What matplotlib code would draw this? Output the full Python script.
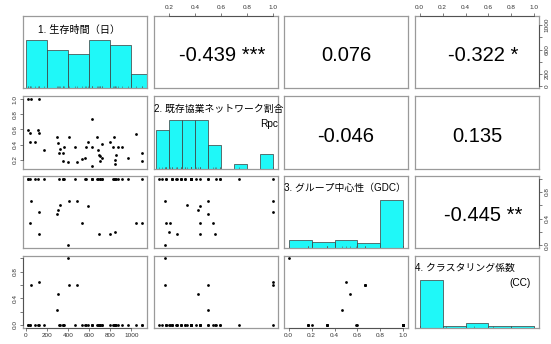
import matplotlib
matplotlib.use("Agg")
import matplotlib.pyplot as plt
import matplotlib.transforms as mtransforms
import numpy as np

plt.rcParams['font.family'] = ['Liberation Sans', 'Noto Sans CJK JP', 'DejaVu Sans']

# data (47 cases)
survival_days = [16, 48, 121, 626, 19, 38, 111, 127, 41, 83, 174, 298, 308, 365, 327, 317,
                 349, 413, 356, 397, 470, 489, 530, 565, 568, 590, 626, 626, 679, 686, 692,
                 705, 717, 717, 705, 802, 832, 825, 870, 911, 854, 845, 845, 971, 1041, 1105, 1098]
rpc = [1.0, 1.0, 1.0, 0.74, 0.59, 0.56, 0.59, 0.55, 0.435, 0.435, 0.325, 0.495, 0.42, 0.367,
       0.337, 0.29, 0.29, 0.495, 0.18, 0.17, 0.367, 0.17, 0.21, 0.22, 0.367, 0.44, 0.367, 0.12,
       0.495, 0.325, 0.26, 0.255, 0.41, 0.22, 0.18, 0.44, 0.495, 0.367, 0.367, 0.367, 0.26,
       0.2, 0.145, 0.22, 0.54, 0.29, 0.18]
gdc = [1, 0.667, 0.5, 1, 1, 1, 1, 0.167, 0.333, 1, 1, 0.467, 0.533, 1, 0.6, 1, 1, 0.667, 1, 0,
       1, 0.667, 0.333, 1, 1, 0.583, 1, 1, 1, 1, 0.167, 1, 1, 1, 1, 0.167, 1, 1, 1, 1, 1, 0.2,
       1, 1, 0.333, 1, 0.333]
cc = [0, 0.6, 0.64, 0, 0, 0, 0, 0, 0, 0, 0, 0.23, 0.47, 0, 0, 0, 0, 0.6, 0, 1.0, 0, 0.6, 0, 0,
      0, 0, 0, 0, 0, 0, 0, 0, 0, 0, 0, 0, 0, 0, 0, 0, 0, 0, 0, 0, 0, 0, 0]

var_names = ["1. 生存時間（日）", "2. 既存協業ネットワーク割合", "3. グループ中心性（GDC）", "4. クラスタリング係数"]
var_subnames = ["", "Rpc", "", "(CC)"]
hist_breaks = [np.arange(0, 1201, 200), np.arange(0.1, 1.01, 0.1),
               np.arange(0, 1.01, 0.2), np.arange(0, 1.01, 0.2)]
axis_ticks = [[0, 200, 400, 600, 800, 1000], [0.2, 0.4, 0.6, 0.8, 1.0],
              [0, 0.2, 0.4, 0.6, 0.8, 1.0], [0, 0.2, 0.4, 0.6, 0.8, 1.0]]
axis_labels = [["0", "200", "", "600", "", "1000"], ["0.2", "0.4", "0.6", "0.8", "1.0"],
               ["0.0", "", "0.4", "", "0.8", ""], ["0.0", "", "0.4", "", "0.8", ""]]
full_labels = [["0", "200", "400", "600", "800", "1000"], ["0.2", "0.4", "0.6", "0.8", "1.0"],
               ["0.0", "0.2", "0.4", "0.6", "0.8", "1.0"], ["0.0", "0.2", "0.4", "0.6", "0.8", "1.0"]]
cor_values = {(0, 1): "-0.439", (0, 2): "0.076", (0, 3): "-0.322",
              (1, 2): "-0.046", (1, 3): "0.135", (2, 3): "-0.445"}
cor_stars = {(0, 1): "***", (0, 3): "*", (2, 3): "**"}

data = [np.array(survival_days, float), np.array(rpc, float), np.array(gdc, float), np.array(cc, float)]
nvar = len(data)

W, H = 551, 344
fig = plt.figure(figsize=(W / 100, H / 100), dpi=100)
col_x = [23, 154, 284, 415]
row_y = [16, 96.5, 176, 255.5]
pw, ph = 124, 72

frame_col = '#9a9a9a'


def lims(v):
    r = v.max() - v.min()
    return v.min() - 0.04 * r, v.max() + 0.04 * r


def axis_line(ax, ticks, side):
    # R draws a dark line between the first and last tick
    if side in ('top', 'bottom'):
        tr = mtransforms.blended_transform_factory(ax.transData, ax.transAxes)
        yy = 1 if side == 'top' else 0
        ax.plot([ticks[0], ticks[-1]], [yy, yy], transform=tr, color='#444444', lw=0.6,
                clip_on=False, zorder=5)
    else:
        tr = mtransforms.blended_transform_factory(ax.transAxes, ax.transData)
        xx = 0 if side == 'left' else 1
        ax.plot([xx, xx], [ticks[0], ticks[-1]], transform=tr, color='#444444', lw=0.6,
                clip_on=False, zorder=5)


for i in range(nvar):
    for j in range(nvar):
        ax = fig.add_axes([col_x[j] / W, 1 - (row_y[i] + ph) / H, pw / W, ph / H])
        for s in ax.spines.values():
            s.set_color(frame_col)
            s.set_linewidth(0.9)
        ax.set_xticks([])
        ax.set_yticks([])
        ax.set_xlim(*lims(data[j]))

        if i == j:
            v = data[i]
            br = hist_breaks[i]
            # right-closed bins like R's hist()
            counts = np.histogram(-v, bins=-br[::-1])[0][::-1]
            ax.bar(br[:-1], counts, width=np.diff(br), align='edge', color='#1ff8f8',
                   edgecolor='#3a3a3a', linewidth=0.5)
            top = counts.max() * 1.5
            ax.set_ylim(0, top)
            ax.vlines(v, 0, top * 0.025, color='#555555', linewidth=0.4)
            if i == 0:
                ax.text(0.45, 0.8, var_names[i], transform=ax.transAxes, ha='center',
                        va='center', fontsize=7.3)
            else:
                ax.text(0.0, 0.83, var_names[i], transform=ax.transAxes, ha='left',
                        va='center', fontsize=7.1, clip_on=False)
            if var_subnames[i]:
                xs = 1.0 if i == 1 else 0.93
                ax.text(xs, 0.62, var_subnames[i], transform=ax.transAxes, ha='right',
                        va='center', fontsize=7.3)
        elif i < j:
            lab = cor_values[(i, j)]
            stars = cor_stars.get((i, j), "")
            full = lab + (" " + stars if stars else "")
            xc = 0.5 if not stars else 0.55
            ax.text(xc, 0.45, full, transform=ax.transAxes, ha='center', va='center',
                    fontsize=14.5)
            ax.set_ylim(*lims(data[i]))
        else:
            ax.scatter(data[j], data[i], s=4, color='black', linewidths=0)
            ax.set_ylim(*lims(data[i]))

        tick_kw = dict(labelsize=4.6, length=2.5, width=0.5, pad=1.5, color='#444444',
                       labelcolor='#333333')
        # alternating axes like R pairs()
        if i == 0 and j % 2 == 1:
            ax.set_xticks(axis_ticks[j], full_labels[j])
            ax.tick_params(axis='x', top=True, labeltop=True, bottom=False,
                           labelbottom=False, **tick_kw)
            axis_line(ax, axis_ticks[j], 'top')
        if i == nvar - 1 and j % 2 == 0:
            ax.set_xticks(axis_ticks[j], full_labels[j])
            ax.tick_params(axis='x', **tick_kw)
            axis_line(ax, axis_ticks[j], 'bottom')
        if j == 0 and i % 2 == 1:
            ax.set_yticks(axis_ticks[i], axis_labels[i] if i == 3 else full_labels[i])
            ax.tick_params(axis='y', **tick_kw)
            plt.setp(ax.get_yticklabels(), rotation=90, va='center')
            axis_line(ax, axis_ticks[i], 'left')
        if j == nvar - 1 and i % 2 == 0:
            ax.set_yticks(axis_ticks[i], axis_labels[i])
            ax.tick_params(axis='y', left=False, labelleft=False, right=True,
                           labelright=True, **tick_kw)
            plt.setp(ax.get_yticklabels(), rotation=90, va='center')
            axis_line(ax, axis_ticks[i], 'right')

fig.savefig("out.png", dpi=100)
